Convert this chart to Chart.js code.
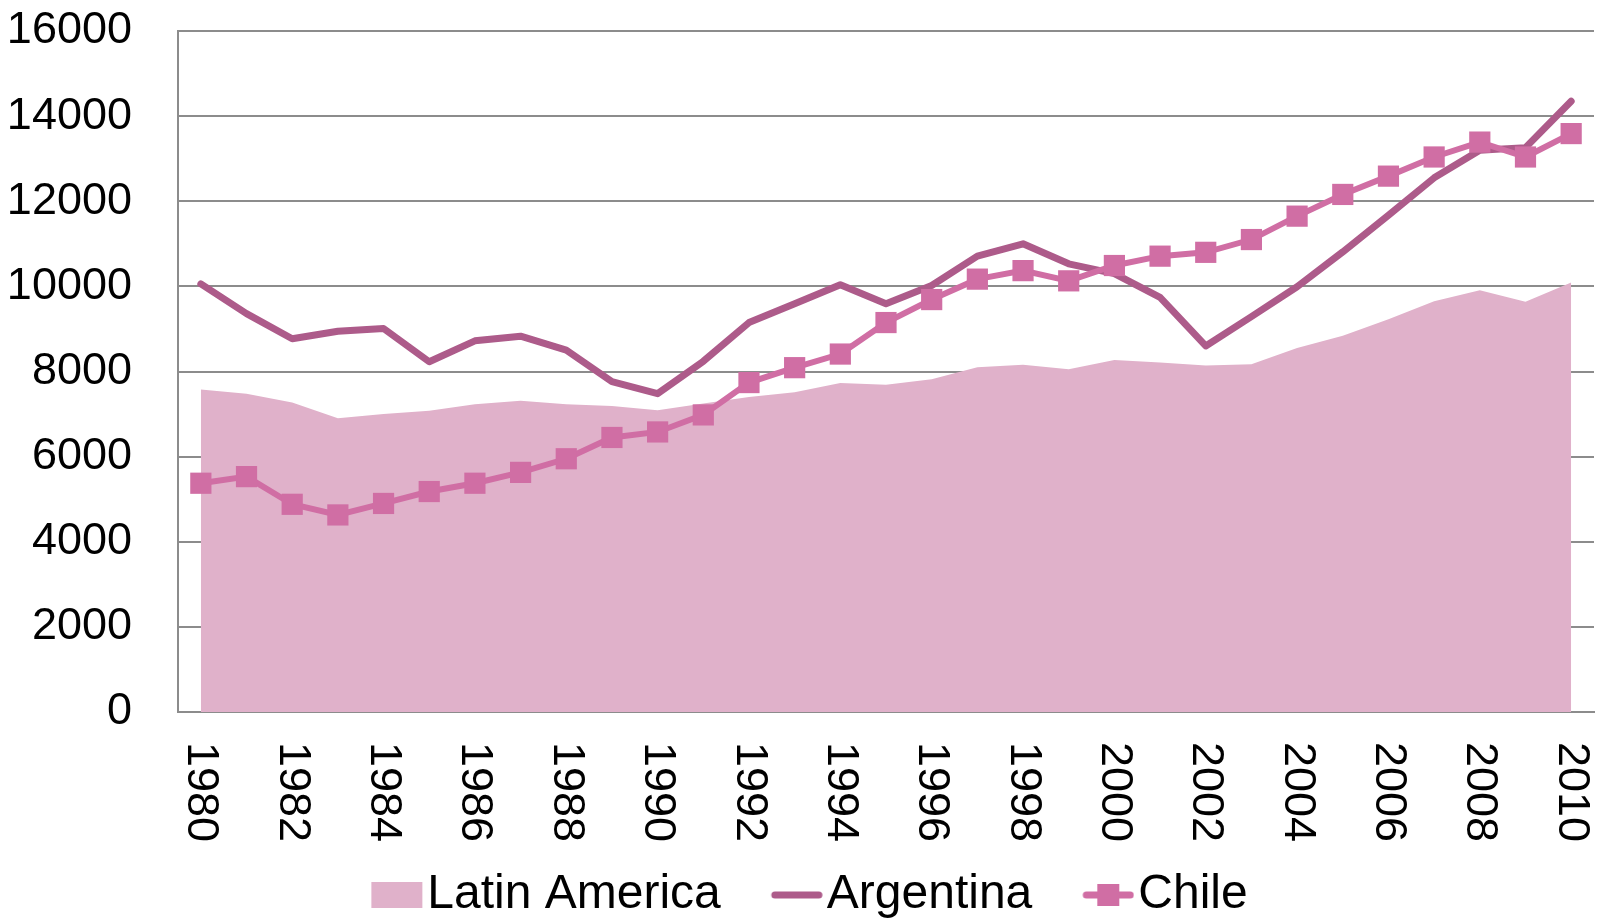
<!DOCTYPE html>
<html>
<head>
<meta charset="utf-8">
<script src="https://cdn.jsdelivr.net/npm/chart.js@4/dist/chart.umd.min.js"></script>
<style>
  html, body { margin: 0; padding: 0; background: #fff; }
</style>
</head>
<body>
<canvas id="gdpChart" width="1602" height="920"></canvas>
<script>
const years = ['1980','1981','1982','1983','1984','1985','1986','1987','1988','1989','1990',
  '1991','1992','1993','1994','1995','1996','1997','1998','1999','2000',
  '2001','2002','2003','2004','2005','2006','2007','2008','2009','2010'];
const tickYears = ['1980','1982','1984','1986','1988','1990','1992','1994','1996','1998',
  '2000','2002','2004','2006','2008','2010'];

const latinAmerica = [7580, 7480, 7270, 6900, 7000, 7080, 7230, 7310, 7230, 7190, 7090,
  7250, 7400, 7510, 7730, 7690, 7820, 8100, 8160, 8050, 8270,
  8210, 8140, 8170, 8550, 8840, 9230, 9650, 9910, 9640, 10090];
const argentina = [10060, 9360, 8770, 8945, 9010, 8230, 8720, 8830, 8500, 7760, 7480,
  8240, 9150, 9590, 10040, 9590, 10020, 10710, 11000, 10530, 10300,
  9740, 8600, 9290, 9990, 10810, 11670, 12550, 13200, 13260, 14350];
const chile = [5375, 5530, 4880, 4630, 4900, 5180, 5375, 5630, 5950, 6450, 6580,
  6980, 7740, 8090, 8410, 9150, 9690, 10170, 10370, 10130, 10490,
  10710, 10800, 11100, 11650, 12160, 12590, 13040, 13390, 13040, 13590];

const AREA = '#e0b1ca';
const ARG = '#ad5b8a';
const CHI = '#d06ea4';
const FONT = '"Liberation Sans", Arial, sans-serif';

// legend icons, drawn on the right part of a small canvas
function legendIcon(kind, color) {
  const c = document.createElement('canvas');
  c.width = 115; c.height = 30;
  const g = c.getContext('2d');
  const x0 = 115 - 52;
  if (kind === 'area') {
    g.fillStyle = color;
    g.fillRect(x0, 2, 51, 26);
  } else {
    g.strokeStyle = color;
    g.lineWidth = 7;
    g.lineCap = 'round';
    g.beginPath();
    g.moveTo(x0 + 4, 15);
    g.lineTo(x0 + 48, 15);
    g.stroke();
    if (kind === 'marker') {
      g.fillStyle = color;
      g.fillRect(x0 + 15, 4, 22, 22);
    }
  }
  return c;
}
const icons = [legendIcon('area', AREA), legendIcon('line', ARG), legendIcon('marker', CHI)];

const yearLabels = {
  id: 'yearLabels',
  afterDraw(chart) {
    const sx = chart.scales.x;
    const ctx = chart.ctx;
    ctx.save();
    ctx.font = '45px ' + FONT;
    ctx.fillStyle = '#000';
    ctx.textAlign = 'left';
    ctx.textBaseline = 'middle';
    tickYears.forEach(t => {
      const px = sx.getPixelForValue(years.indexOf(t));
      ctx.save();
      ctx.translate(px, sx.top + 30);
      ctx.rotate(Math.PI / 2);
      ctx.fillText(t, 0, 0);
      ctx.restore();
    });
    ctx.restore();
  }
};

const ctx = document.getElementById('gdpChart').getContext('2d');
new Chart(ctx, {
  type: 'line',
  data: {
    labels: years,
    datasets: [
      {
        label: 'Latin America',
        data: latinAmerica,
        fill: 'origin',
        backgroundColor: AREA,
        borderWidth: 0,
        pointRadius: 0,
        tension: 0,
        order: 3
      },
      {
        label: 'Argentina',
        data: argentina,
        borderColor: ARG,
        borderWidth: 7,
        borderCapStyle: 'round',
        borderJoinStyle: 'round',
        pointRadius: 0,
        fill: false,
        tension: 0,
        order: 2
      },
      {
        label: 'Chile',
        data: chile,
        borderColor: CHI,
        borderWidth: 6,
        backgroundColor: CHI,
        pointStyle: 'rect',
        pointRadius: 15,
        pointBorderWidth: 0,
        pointBackgroundColor: CHI,
        fill: false,
        tension: 0,
        order: 1
      }
    ]
  },
  options: {
    responsive: false,
    animation: false,
    layout: { autoPadding: false, padding: { left: -18, right: 8, top: 31, bottom: -9 } },
    plugins: {
      tooltip: { enabled: false },
      legend: {
        position: 'bottom',
        labels: {
          usePointStyle: true,
          pointStyleWidth: 75,
          padding: 7,
          color: '#000',
          font: { family: FONT, size: 48 },
          generateLabels: chart => chart.data.datasets.map((ds, i) => ({
            text: ds.label,
            pointStyle: icons[i],
            datasetIndex: i,
            hidden: false,
            lineWidth: 0,
            fillStyle: 'rgba(0,0,0,0)',
            strokeStyle: 'rgba(0,0,0,0)',
            fontColor: '#000'
          }))
        }
      }
    },
    scales: {
      x: {
        offset: true,
        grid: { display: false, drawTicks: false },
        border: { display: true, color: '#8c8c8c', width: 2 },
        ticks: { display: false, autoSkip: false },
        afterFit: s => { s.height = 152; }
      },
      y: {
        min: 0,
        max: 16000,
        grid: { color: '#8c8c8c', lineWidth: 2, drawTicks: false },
        border: { display: true, color: '#8c8c8c', width: 2 },
        ticks: {
          stepSize: 2000,
          padding: 46,
          color: '#000',
          font: { family: FONT, size: 45 },
          callback: v => String(v)
        },
        afterFit: s => {
          s.width = 196;
          s.paddingTop = 20;
          s.paddingBottom = 20;
        }
      }
    }
  },
  plugins: [yearLabels]
});
</script>
</body>
</html>
